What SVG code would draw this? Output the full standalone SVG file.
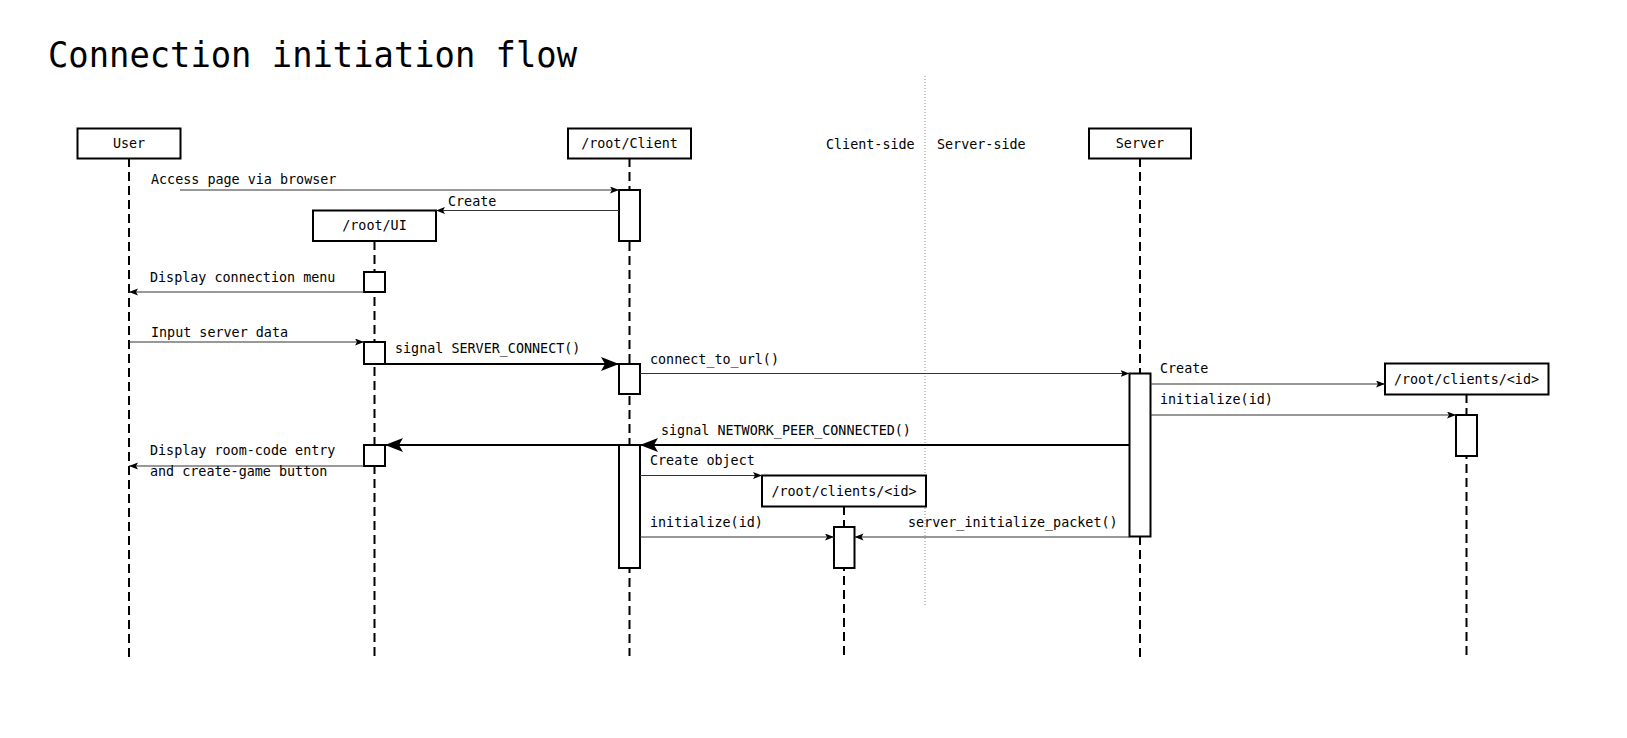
<svg xmlns="http://www.w3.org/2000/svg" width="1627" height="738" viewBox="0 0 1627 738">
<style>
text{font-family:"DejaVu Sans Mono","Liberation Mono",monospace;font-size:13.4px;fill:#000}
.title{font-size:35px}
.mid{text-anchor:middle}
.box{fill:#fff;stroke:#000;stroke-width:2}
.life{stroke:#000;stroke-width:2;stroke-dasharray:9 5;fill:none}
.act{fill:#fff;stroke:#000;stroke-width:2}
.msg{stroke:#333;stroke-width:1.2;fill:none;marker-end:url(#sa)}
.sig{stroke:#000;stroke-width:2;fill:none;marker-end:url(#ba)}
.div{stroke:#888;stroke-width:1;stroke-dasharray:1 2;fill:none}
</style>
<defs>
<marker id="sa" markerUnits="userSpaceOnUse" markerWidth="10" markerHeight="8" refX="9" refY="3.5" orient="auto"><path d="M0,0 L9,3.5 L0,7 L2,3.5 z" fill="#000"/></marker>
<marker id="ba" markerUnits="userSpaceOnUse" markerWidth="20" markerHeight="16" refX="18" refY="7" orient="auto"><path d="M0,0 L18,7 L0,14 L4,7 z" fill="#000"/></marker>
</defs>
<rect width="1627" height="738" fill="#fff"/>
<text class="title" x="48" y="67" textLength="529" lengthAdjust="spacingAndGlyphs">Connection initiation flow</text>

<g id="divider">
<line class="div" x1="925" y1="76" x2="925" y2="606"/>
<text x="826" y="149">Client-side</text>
<text x="937" y="149">Server-side</text>
</g>

<g id="user">
<line class="life" x1="129" y1="158" x2="129" y2="660"/>
<rect class="box" x="77.5" y="128.5" width="103" height="30"/>
<text class="mid" x="129" y="148">User</text>
</g>

<g id="client">
<line class="life" x1="629.5" y1="158" x2="629.5" y2="656"/>
<rect class="box" x="568" y="128.5" width="123" height="30"/>
<text class="mid" x="629.5" y="148">/root/Client</text>
<rect class="act" x="619" y="190" width="21" height="51"/>
<rect class="act" x="619" y="364" width="21" height="30"/>
<rect class="act" x="619" y="445" width="21" height="123"/>
</g>

<g id="ui">
<line class="life" x1="374.5" y1="241" x2="374.5" y2="657"/>
<rect class="box" x="313" y="210.5" width="123" height="30.5"/>
<text class="mid" x="374.5" y="230">/root/UI</text>
<rect class="act" x="364" y="272" width="21" height="20"/>
<rect class="act" x="364" y="342" width="21" height="22"/>
<rect class="act" x="364" y="445" width="21" height="21"/>
</g>

<g id="clients-id-local">
<line class="life" x1="844" y1="506" x2="844" y2="656"/>
<rect class="box" x="762" y="475.5" width="164" height="31"/>
<text class="mid" x="844" y="496">/root/clients/&lt;id&gt;</text>
<rect class="act" x="834" y="527" width="20.5" height="41"/>
</g>

<g id="server">
<line class="life" x1="1140" y1="158" x2="1140" y2="660"/>
<rect class="box" x="1089" y="128.5" width="102" height="30"/>
<text class="mid" x="1140" y="148">Server</text>
<rect class="act" x="1129.5" y="373.5" width="21" height="163"/>
</g>

<g id="clients-id-remote">
<line class="life" x1="1466.5" y1="394" x2="1466.5" y2="659"/>
<rect class="box" x="1385" y="363.5" width="163.5" height="31"/>
<text class="mid" x="1466.5" y="384">/root/clients/&lt;id&gt;</text>
<rect class="act" x="1456" y="415" width="21" height="41"/>
</g>

<g id="connectors">
<line class="msg" x1="180" y1="190" x2="619" y2="190"/>
<line class="msg" x1="619" y1="210.5" x2="436" y2="210.5"/>
<line class="msg" x1="364" y1="292" x2="129" y2="292"/>
<line class="msg" x1="129" y1="342" x2="364" y2="342"/>
<line class="sig" x1="385" y1="364" x2="619" y2="364"/>
<line class="msg" x1="640" y1="373.5" x2="1129.5" y2="373.5"/>
<line class="msg" x1="1150.5" y1="384" x2="1385" y2="384"/>
<line class="msg" x1="1150.5" y1="415" x2="1456" y2="415"/>
<line class="sig" x1="1129.5" y1="445" x2="640" y2="445"/>
<line class="sig" x1="619" y1="445" x2="385" y2="445"/>
<line class="msg" x1="364" y1="466" x2="129" y2="466"/>
<line class="msg" x1="640" y1="475.5" x2="762" y2="475.5"/>
<line class="msg" x1="640" y1="537" x2="834" y2="537"/>
<line class="msg" x1="1129.5" y1="537" x2="854.5" y2="537"/>
</g>

<g id="labels">
<text x="151" y="184">Access page via browser</text>
<text x="448" y="206">Create</text>
<text x="150" y="282">Display connection menu</text>
<text x="151" y="337">Input server data</text>
<text x="395" y="353">signal SERVER_CONNECT()</text>
<text x="650" y="364">connect_to_url()</text>
<text x="1160" y="373">Create</text>
<text x="1160" y="404">initialize(id)</text>
<text x="661" y="435">signal NETWORK_PEER_CONNECTED()</text>
<text x="150" y="455">Display room-code entry</text>
<text x="150" y="475.5">and create-game button</text>
<text x="650" y="465">Create object</text>
<text x="650" y="527">initialize(id)</text>
<text x="908" y="527">server_initialize_packet()</text>
</g>
</svg>
